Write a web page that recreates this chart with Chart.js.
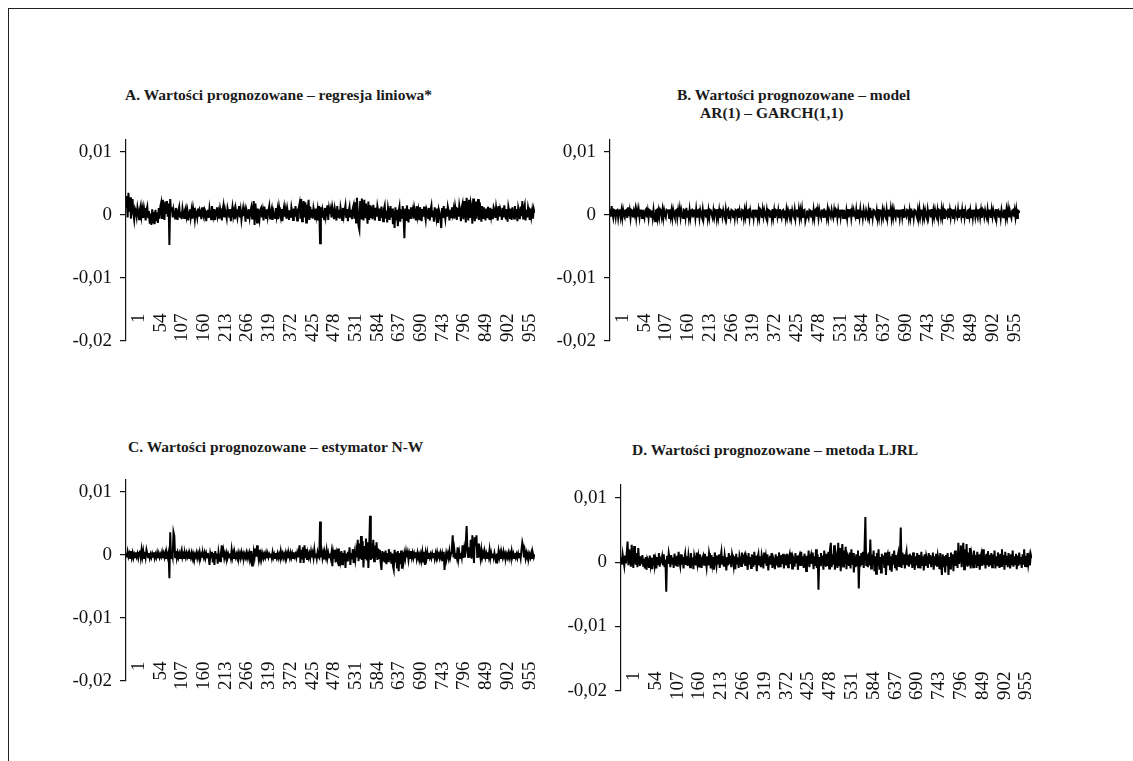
<!DOCTYPE html>
<html>
<head>
<meta charset="utf-8">
<script src="https://cdn.jsdelivr.net/npm/chart.js@4.4.1/dist/chart.umd.min.js"></script>
<style>
  body { margin: 0; background: #fff; width: 1133px; height: 761px; overflow: hidden; position: relative; font-family: "Liberation Serif", serif; }
  #frame { position: absolute; left: 8px; top: 8px; width: 1200px; height: 800px; border-top: 1.5px solid #222; border-left: 1.5px solid #222; }
  .panel { position: absolute; }
  .title { position: absolute; font-weight: bold; font-size: 15.5px; line-height: 18px; color: #1a1a1a; white-space: nowrap; }
</style>
</head>
<body>
<div id="frame"></div>

<div class="title" style="left:125px;top:86px">A. Wartości prognozowane – regresja liniowa*</div>
<div class="title" style="left:677px;top:86px">B. Wartości prognozowane – model</div>
<div class="title" style="left:700px;top:104px">AR(1) – GARCH(1,1)</div>
<div class="title" style="left:128px;top:438px">C. Wartości prognozowane – estymator N-W</div>
<div class="title" style="left:632px;top:441px">D. Wartości prognozowane – metoda LJRL</div>

<div class="panel" style="left:40px;top:120px"><canvas id="chartA" width="520" height="240"></canvas></div>
<div class="panel" style="left:524px;top:120px"><canvas id="chartB" width="520" height="240"></canvas></div>
<div class="panel" style="left:40px;top:460px"><canvas id="chartC" width="520" height="240"></canvas></div>
<div class="panel" style="left:535px;top:460px"><canvas id="chartD" width="520" height="250"></canvas></div>

<script>
  'use strict';

  // x axis: observation numbers (every second observation is kept)
  const xTickValues = [1, 54, 107, 160, 213, 266, 319, 372, 425, 478, 531, 584, 637, 690, 743, 796, 849, 902, 955];
  const obsStep = 2;
  const obsMax = 1000;

  // y axis ticks
  const yTickValues = [0.01, 0, -0.01, -0.02];
  const yTickLabels = ['0,01', '0', '-0,01', '-0,02'];
  const yMin = -0.02;
  const yMax = 0.012;

  // values in units of 0.0001
  const forecastA = [
    12,30,-4,35,5,28,-6,14,25,2, -8,10,6,-3,12,4,-7,9,15,-2, 8,-5,11,3,-9,7,13,-4,6,-14, 2,-16,9,-12,5,-15,8,-10,4,-13, 11,-6,14,20,-5,24,10,-8,21,3,
    22,-3,18,-48,25,6,12,-4,9,2, -6,11,4,-8,7,13,-3,5,-7,10, 1,-5,8,12,-2,6,-9,4,9,-4, 7,-6,11,3,-8,6,2,-5,10,-3, 8,4,-7,12,1,-4,9,6,-10,5,
    8,-5,11,2,-7,14,4,-3,9,-8, 6,12,-2,5,-6,10,3,-9,7,15, -4,8,1,-6,11,5,-3,9,-10,4, 13,-2,6,-7,10,2,-5,8,14,-4, 7,-8,3,11,-2,6,-11,9,4,-5,
    9,-4,6,12,-6,8,22,-16,18,5, -12,10,3,-7,8,11,-4,6,-9,13, 2,-5,9,-3,7,14,-6,4,10,-8, 6,1,-5,11,-2,8,-7,12,3,-4, 9,-10,5,13,-3,7,-6,10,2,-8,
    7,-5,12,4,-8,10,-3,14,2,-9, 8,11,18,-6,25,-10,12,22,-4,20, -12,16,6,24,-8,13,-3,9,-6,11, 4,-7,10,-2,8,-9,14,-45,12,-5, 9,3,-7,11,-3,6,15,-8,10,2,
    9,-4,13,6,-7,10,2,-9,14,-3, 8,-6,12,4,-8,11,-2,7,15,-5, 9,-10,6,13,-4,8,-7,11,16,-6, 20,-12,27,8,-18,-24,22,-6,26,10, -9,24,-4,18,5,-14,21,-8,15,-5,
    12,-7,16,4,-9,11,-3,14,6,-8, 10,-5,13,2,-10,9,15,-6,7,-12, 11,3,-8,14,-4,10,-15,6,-21,12, -9,8,-18,5,13,-11,9,-6,14,-3, -37,10,-8,15,4,-12,9,-5,12,2,
    8,-6,11,3,-9,14,-2,7,-7,12, 5,-10,9,-3,13,1,-8,10,6,-5, 11,-9,8,15,-4,7,-11,12,3,-6, 10,-13,9,4,-8,-21,11,-5,14,2, -7,10,-3,13,6,-9,8,-4,12,1,
    9,-6,13,4,-8,11,-3,15,6,-10, 12,18,-7,22,8,-12,27,10,-9,24, -5,19,12,-14,26,7,-10,21,-6,16, 25,-8,20,4,-11,14,-5,12,3,-9, 10,-4,13,6,-8,11,-2,9,-7,12,
    8,-5,12,2,-9,14,-3,10,5,-8, 11,-4,15,3,-7,9,-11,13,6,-5, 10,-8,12,1,-6,14,-3,9,-10,11, 4,-7,13,-2,22,-6,10,16,-9,8, -4,12,5,-8,10,-3,7,-6,9,3
  ];

  const forecastB = [
    9,-3,14,2,-5,8,7,-4,7,8, -5,6,9,-3,7,-5,8,0,-4,7, 8,-5,12,-2,7,-5,8,7,-4,6, 0,9,-5,7,-3,8,-4,7,7,-5, 8,1,-5,7,9,-4,6,-5,8,7,
    -3,7,-5,8,-4,-10,7,8,-5,6, -4,9,7,-3,8,-5,7,0,-4,8, 7,7,-5,9,-3,7,-5,8,1,-4, 7,8,-5,7,-3,9,-4,7,0,-5, 8,7,-4,11,-3,7,-5,8,-4,7,
    8,-4,7,7,-5,9,-3,7,8,-5, 7,0,-4,8,-5,7,7,-3,9,-5, 7,-4,8,7,0,-5,7,-3,8,7, -5,9,-4,7,-5,8,7,-3,7,0, -5,8,-4,7,9,-5,7,-3,8,7,
    -4,7,-5,8,7,-3,10,-5,7,0, -4,8,7,-5,7,-3,9,-4,7,8, -5,7,0,-4,8,-5,7,7,-3,8, -5,7,-4,9,7,-5,8,-3,7,0, -4,7,-5,8,7,-3,7,-5,9,-4,
    7,-5,8,7,-3,7,-4,9,0,-5, 7,8,-4,7,-5,8,-3,7,7,-5, 9,-4,7,0,-3,8,-5,7,7,-4, 8,-5,7,-3,9,-5,7,8,-10,-4, 7,0,-5,8,7,-3,7,-4,8,-5,
    7,9,-3,7,-5,8,0,-4,7,7, -5,10,-3,7,-4,8,-5,7,7,-3, 8,0,-5,7,-4,9,7,-5,7,-3, 8,-4,7,7,-5,8,0,-3,7,-5, 9,-4,7,8,-5,7,-3,7,0,-4,
    8,-5,7,7,-4,9,-3,7,-5,8, 0,-4,7,7,-5,8,-3,11,-4,7, -5,8,7,0,-3,7,-5,9,-4,7, 8,-5,7,-3,7,0,-4,8,-5,7, 7,-3,9,-5,7,-4,8,0,-5,7,
    7,-3,8,-5,7,7,-4,9,-5,7, 0,-3,8,7,-5,7,-4,10,-3,7, -5,8,7,0,-4,7,-5,9,-3,7, 8,-5,7,-4,7,0,-5,8,-3,7, 7,-4,9,-5,7,-3,8,0,-4,7,
    -5,8,7,-3,9,-4,7,-5,8,7, 0,-3,10,-5,7,-4,8,7,-5,9, -3,7,0,-4,8,-5,7,7,-3,8, -5,9,-4,7,0,-5,7,8,-3,7, -4,8,-5,7,7,-3,9,0,-5,7,
    8,-4,7,-5,9,7,-3,7,0,-5, 8,-4,7,7,-5,8,-3,7,0,-4, 9,-5,7,8,-3,7,-5,8,0,-4, 7,7,-5,8,-3,9,-4,7,0,-5, 7,8,-3,7,-4,8,-5,7,6,3
  ];

  const forecastC = [
    3,-4,5,-3,2,-5,6,-4,3,-5, 1,-4,4,-3,2,-5,3,7,-4,8, -3,6,-5,5,-4,8,2,-4,3,-5, 1,-4,2,-3,4,-5,1,-4,3,-5, 2,-4,1,-3,4,-5,2,-4,3,-5,
    2,-4,3,-37,36,-5,4,-3,36,30, -4,6,-5,3,-4,2,-5,3,8,-4, 1,-5,2,-4,3,-3,2,-5,1,-4, 3,-5,2,-4,1,-3,3,-5,2,-4, 4,-5,1,-3,2,-4,3,-5,2,-4,
    3,-5,-16,2,-4,5,-12,3,-16,6, -5,2,-14,4,-5,-10,3,15,-4,6, -5,2,-4,3,-5,1,-4,2,-5,8, -4,3,-5,2,-4,1,-5,3,-4,2, -5,4,-3,2,-5,1,-4,3,-5,2,
    -4,3,-5,6,-17,-8,5,-4,10,-3, 15,4,-6,8,-5,3,-4,2,-5,1, -4,3,-5,2,-4,1,-3,2,-5,4, -4,1,-5,3,-4,2,-5,1,-4,6, -3,2,-5,1,-4,3,-5,2,-4,1,
    -5,3,-4,2,-5,4,-3,1,-5,3, -4,6,15,-13,8,-6,12,-13,15,-5, 9,-8,3,-4,2,-5,5,-4,3,-5, 8,-4,2,-6,4,-3,-5,53,-4,6, -5,3,-6,2,-4,7,-5,3,-4,2,
    -5,4,-18,3,-6,8,-12,2,-5,10, -18,4,-8,6,-15,3,-10,7,-21,2, -9,5,-6,12,-16,3,-7,9,-13,2, -8,6,-4,24,-10,18,-6,30,-8,22, -20,14,-5,26,-9,20,-21,12,62,-8,
    18,-6,24,-10,15,-4,20,-8,10,-5, 8,-13,-24,6,-9,4,-12,7,-15,3, -10,9,-8,5,-14,2,-18,-24,8,-12, 4,-20,6,-26,3,-15,7,-22,4,-10, 2,-6,5,-4,3,-8,2,-5,6,-4,
    3,-5,2,-4,4,-6,3,-5,1,-4, 2,-8,3,-12,5,-16,2,-6,4,-5, 3,-4,1,-5,2,-4,3,-6,2,-5, 4,-3,1,-5,3,-4,2,-10,5,-24, -6,3,-4,2,-5,6,-4,3,10,31,
    -4,8,-5,3,-4,12,-6,4,-5,3, -4,15,-5,8,-4,20,46,6,-5,12, -4,24,-6,31,10,-13,28,14,31,-5, 18,-4,6,-5,8,-4,3,-6,5,-4, 2,-5,4,-3,8,-5,3,-4,2,-5,
    3,-4,-12,2,-5,6,-4,3,-5,2, -4,5,-3,2,-5,1,-4,3,-5,2, -4,6,-3,2,-5,3,-4,1,-5,2, -4,3,-5,8,20,14,-4,6,-5,3, -4,2,-5,1,-4,3,-5,2,-4,1
  ];

  const forecastD = [
    8,-4,12,3,-6,10,-2,15,32,-5, 20,8,-7,27,4,-9,25,6,-4,14, -8,22,2,-6,9,-3,11,-7,5,-10, 8,-12,6,3,-9,10,-4,7,-11,5, 12,-6,3,-10,8,-3,14,-7,5,2,
    9,-5,12,-8,4,-46,10,-3,14,6, -8,11,-2,7,-9,13,3,-5,10,-7, 16,2,-6,12,-4,8,-10,5,13,-3, 9,-6,11,1,-8,14,-4,7,-11,10, 3,-5,15,-2,8,-7,12,4,-9,6,
    10,-4,13,2,-8,9,-5,14,6,-10, 11,-3,8,-12,15,3,-6,10,-2,12, -9,7,16,-4,9,-7,11,2,-13,8, -5,14,-3,10,-8,12,5,-6,9,-11, 13,-2,7,-9,10,4,-6,15,-3,8,
    11,-6,9,3,-12,14,-4,8,-9,12, 2,-7,16,-3,10,-14,7,13,-5,9, -8,11,4,-10,15,-2,8,-6,12,-13, 6,10,-4,14,-9,7,3,-11,12,-5, 9,-7,15,2,-8,11,-3,13,-10,7,
    9,-5,13,-8,6,12,-3,15,-10,8, 4,-7,14,-2,10,-12,7,11,-6,16, -4,9,-9,13,3,-14,10,-5,18,-8, 7,12,-3,15,-11,9,-6,20,-9,12, -43,8,-5,14,-2,10,-12,18,4,-7,
    13,-6,16,-10,20,30,-8,12,-4,26, -12,14,6,-9,30,-5,22,-14,10,28, -7,18,-3,24,-11,12,8,-6,15,-10, 20,-4,14,-16,9,-8,12,-5,18,-41, 10,-7,14,-3,16,-9,22,70,-6,12,
    -8,15,-5,35,-10,12,-4,18,-14,9, -18,14,-6,20,-12,8,-16,13,-3,10, -9,15,-20,7,12,-5,16,-11,9,-15, 13,-4,18,-8,11,-13,7,14,-6,10, 54,-9,15,-4,12,-10,8,16,-5,11,
    -7,13,-3,10,-9,15,2,-12,9,-5, 14,-8,11,3,-10,16,-4,9,-13,12, -6,10,4,-9,14,-3,11,-8,7,15, -12,9,-5,13,-7,10,2,-11,14,-4, -20,12,-8,9,-16,11,-6,14,-20,8,
    -10,15,-4,12,-14,9,18,-6,14,-9, 30,-3,16,26,-8,12,30,-11,20,-5, 28,-7,15,-4,22,-10,13,6,-8,18, -3,11,-9,16,-5,12,-12,9,14,-6, 20,-4,10,-10,13,-3,17,-7,11,-5,
    14,-8,12,-3,18,-10,9,-5,15,2, -9,13,-6,20,-4,11,-12,16,-3,10, -8,14,4,-10,12,-5,18,-7,9,-3, 13,-11,10,-6,15,-2,8,-9,12,-4, 20,-6,10,-8,14,-3,7,-5,12,6
  ];

  const INK = '#111';
  const tickFont = { family: 'Liberation Serif', size: 19 };
  const xTickFont = { family: 'Liberation Serif', size: 19 };

  function toPoints(values) {
    return values.map(function (v, i) { return { x: i * obsStep + 1, y: v / 10000 }; });
  }

  function makeChart(id, values, pad) {
    return new Chart(document.getElementById(id), {
      type: 'line',
      data: {
        datasets: [{
          data: toPoints(values),
          borderColor: '#000',
          borderWidth: 2,
          pointRadius: 0,
          tension: 0,
          fill: false
        }]
      },
      options: {
        responsive: false,
        animation: false,
        devicePixelRatio: 1,
        events: [],
        layout: { padding: { top: pad.top, right: pad.right, bottom: pad.bottom, left: 0 } },
        plugins: { legend: { display: false }, tooltip: { enabled: false } },
        scales: {
          x: {
            type: 'linear',
            // labels sit inside the plot, just above the -0,02 level
            position: { y: yMin },
            min: 1,
            max: obsMax,
            border: { display: false },
            grid: { display: false, drawTicks: false },
            afterBuildTicks: function (s) { s.ticks = xTickValues.map(function (v) { return { value: v }; }); },
            ticks: {
              autoSkip: false,
              minRotation: 90,
              maxRotation: 90,
              padding: pad.labels,
              labelOffset: 13,
              font: xTickFont,
              color: INK
            }
          },
          y: {
            min: yMin,
            max: yMax,
            afterBuildTicks: function (s) { s.ticks = yTickValues.map(function (v) { return { value: v }; }); },
            afterFit: function (s) { s.width = 86; },
            border: { display: true, color: INK, width: 1.2 },
            grid: { drawOnChartArea: false, drawTicks: true, tickLength: 6, color: INK, lineWidth: 1.2 },
            ticks: {
              padding: 8,
              font: tickFont,
              color: INK,
              callback: function (v, i) { return yTickLabels[i]; }
            }
          }
        }
      }
    });
  }

  makeChart('chartA', forecastA, { top: 17, right: 25, bottom: 14, labels: -27 });
  makeChart('chartB', forecastB, { top: 17, right: 24, bottom: 14, labels: -27 });
  makeChart('chartC', forecastC, { top: 19, right: 25, bottom: 12, labels: -19 });
  makeChart('chartD', forecastD, { top: 25, right: 23, bottom: 14, labels: -19 });
</script>
</body>
</html>
